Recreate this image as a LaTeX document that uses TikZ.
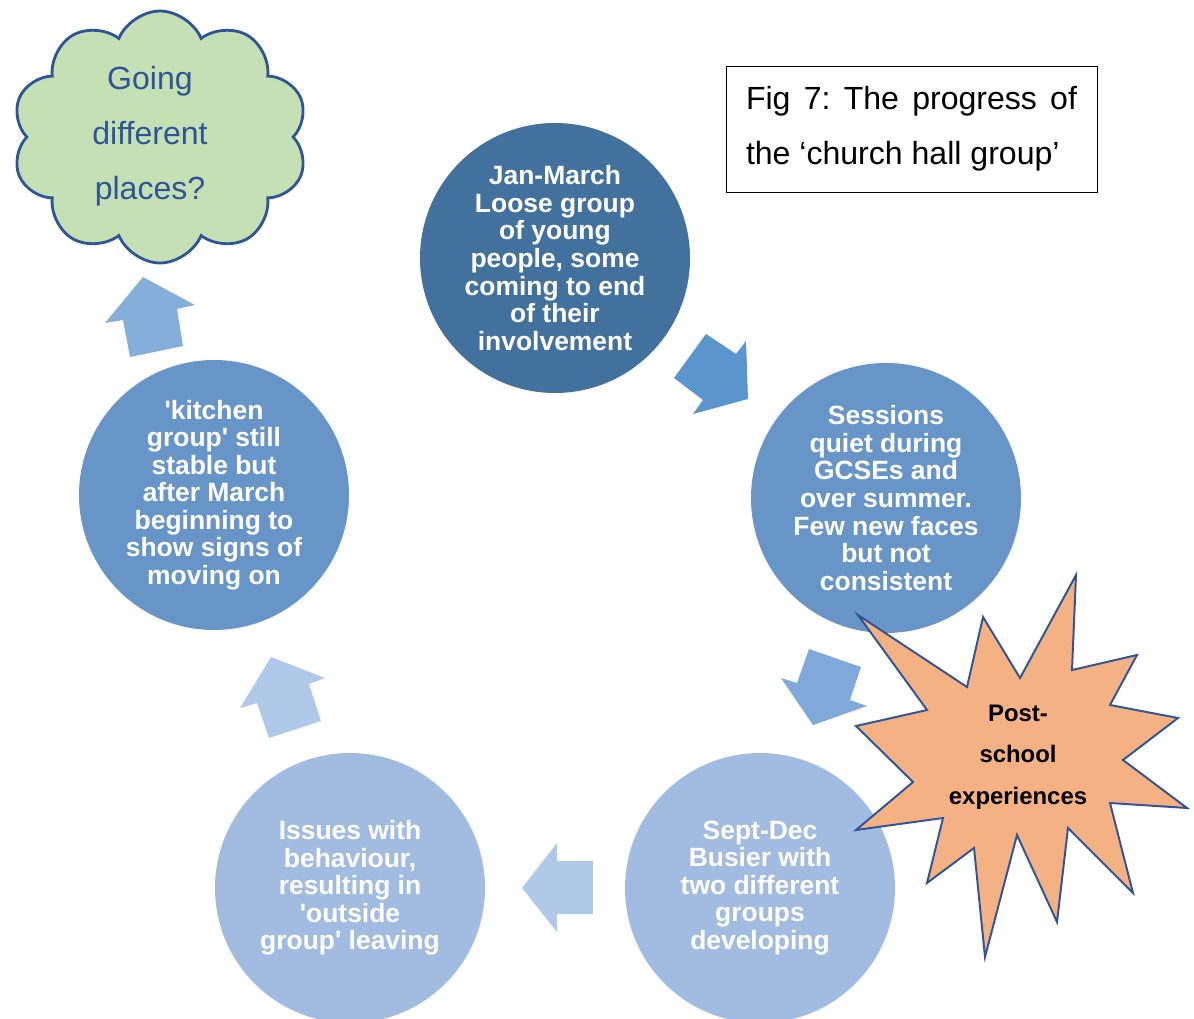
\documentclass[tikz,border=0pt]{standalone}
\usepackage{fontspec}
\setmainfont{Liberation Sans}
\usetikzlibrary{shapes.symbols}
\definecolor{circdark}{HTML}{43719E}
\definecolor{circmid}{HTML}{6895C8}
\definecolor{circlight}{HTML}{A1BCE0}
\definecolor{arrowA}{HTML}{5A95CE}
\definecolor{arrowB}{HTML}{80A8D9}
\definecolor{arrowC}{HTML}{B0C9E8}
\definecolor{arrowD}{HTML}{86AEDB}
\definecolor{cloudfill}{HTML}{C5E0B4}
\definecolor{outline}{HTML}{2F5597}
\definecolor{burstfill}{HTML}{F4B183}
\tikzset{
  stage/.style={circle, fill=#1, minimum size=67.5mm, inner sep=0pt, text=white, align=center,
    font=\bfseries\fontsize{18.8}{19.6}\selectfont},
  burst/.style={draw=outline, fill=burstfill, line width=1.4pt, line join=miter},
}
\frenchspacing
\begin{document}
\begin{tikzpicture}[x=0.25mm, y=-0.25mm]
\useasboundingbox (0,0) rectangle (1194,1018);
\node [stage=circdark] (janmar) at (555,258) {Jan-March\\Loose group\\of young\\people, some\\coming to end\\of their\\involvement};
\node [stage=circmid] (sessions) at (886,498) {Sessions\\quiet during\\GCSEs and\\over summer.\\Few new faces\\but not\\consistent};
\node [stage=circlight] (septdec) at (760,888) {Sept-Dec\\Busier with\\two different\\groups\\developing};
\node [stage=circlight] (issues) at (350,888) {Issues with\\behaviour,\\resulting in\\\textquotesingle outside\\group\textquotesingle{} leaving};
\node [stage=circmid] (kitchen) at (214,495) {\textquotesingle kitchen\\group\textquotesingle{} still\\stable but\\after March\\beginning to\\show signs of\\moving on};
% block arrows round the cycle
\fill [arrowA] (706,334) -- (736,354) -- (746,341) -- (748,399) -- (693,414) -- (703,400) -- (674,378) -- cycle;
\fill [arrowB] (809,649) -- (861,667) -- (850,700) -- (867,706) -- (813,725) -- (781,678) -- (797,683) -- cycle;
\fill [arrowC] (593,861) -- (557,861) -- (557,843) -- (522,888) -- (557,932) -- (557,914) -- (593,914) -- cycle;
\fill [arrowC] (269,738) -- (321,721) -- (309,684) -- (325,678) -- (271,657) -- (240,708) -- (257,703) -- cycle;
\fill [arrowD] (130,357) -- (183,346) -- (177,309) -- (195,305) -- (143,277) -- (105,323) -- (123,320) -- cycle;
% cloud and title
\node [cloud, cloud puffs=10, cloud puff arc=135, draw=outline, fill=cloudfill, line width=2pt,
  minimum width=74mm, minimum height=63mm] (cloud) at (160,137) {};
\node [text=outline, align=center, font=\fontsize{22.8}{39.1}\selectfont] (going) at (150,136) {Going\\different\\places?};
\node [draw, line width=0.6pt, minimum width=92.75mm, minimum height=31.5mm, inner sep=0pt, align=left,
  font=\fontsize{22.8}{39.1}\selectfont] (figtitle) at (911.5,129)
  {\makebox[82.75mm][s]{Fig 7: The progress of}\\the ‘church hall group’};
% explosion
\draw [burst] (858,615) -- (967,687) -- (983,617) -- (1020,678) -- (1076,575) -- (1072,670) -- (1137,655)
  -- (1110,705) -- (1178,718) -- (1123,760) -- (1187,808) -- (1110,803) -- (1133,893) -- (1068,828)
  -- (1057,922) -- (1017,835) -- (985,957) -- (974,848) -- (927,883) -- (943,818) -- (856,830)
  -- (913,782) -- (856,726) -- (927,710) -- cycle;
\node [align=center, font=\bfseries\fontsize{17}{29.5}\selectfont] (postschool) at (1018,757) {Post-\\school\\experiences};
\end{tikzpicture}
\end{document}
